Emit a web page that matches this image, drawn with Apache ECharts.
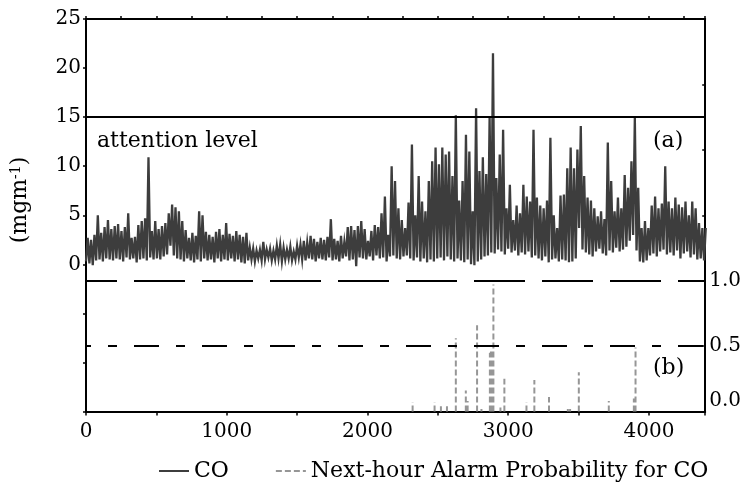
<!DOCTYPE html>
<html><head><meta charset="utf-8">
<script src="https://cdn.jsdelivr.net/npm/echarts@6/dist/echarts.min.js"></script>
<style>html,body{margin:0;padding:0;background:#fff}#c{width:744px;height:483px}</style>
</head><body><div id="c"></div>
<script>
// CO concentration, daily trough (low) and daily peak (high), mg/m3
const coDailyLow = [
  0.3, 0.1, -0.1, 0.4, 0.5, 0.3, 0.6, 0.5, 0.4, 0.6,
  0.5, 0.3, 0.7, 0.5, 0.6, 0.2, 0.5, 0.6, 0.4, 0.7,
  0.5, 0.6, 0.5, 0.8, 1.0, 1.9, 0.9, 0.6, 0.5, 0.3,
  0.6, 0.4, 0.2, 0.5, 0.3, 0.6, 0.4, 0.5, 0.2, 0.6,
  0.3, 0.5, 0.4, 0.6, 0.3, 0.5, 0.2, 0.1, 0.4, 0.5,
  0.3, 0.6, 0.4, 0.5, 0.7, 0.4, 0.5, 0.6, 0.3, 0.5,
  0.6, 0.4, 0.5, 0.7, 0.5, 0.4, 0.6, 0.5, 0.3, 0.6,
  0.5, 0.4, 0.7, 0.4, 0.5, 0.3, 0.6, 0.8, 0.4, 0.5,
  -0.2, 0.7, 0.6, 0.5, 0.8, 0.4, 0.9, 0.6, 0.7, 0.3,
  0.8, 0.9, 0.6, 0.5, 0.8, 0.9, 0.6, 0.4, 0.7, 0.3,
  0.6, 0.2, 0.5, 0.3, 0.6, 0.7, 0.4, 0.8, 0.5, 0.3,
  0.6, 0.4, 0.2, 0.5, 0.0, -0.1, 0.3, 0.5, 0.8, 0.9,
  1.2, 1.1, 1.5, 1.3, 1.0, 1.6, 1.2, 1.4, 0.9, 1.2,
  1.0, 1.3, 0.7, 0.9, 0.6, 0.4, 0.8, 0.2, 0.5, 0.6,
  0.3, 0.5, 0.4, 0.2, 0.3, 0.6, 3.7, 1.5, 1.2, 1.0,
  0.8, 1.3, 1.6, 1.1, 0.9, 1.4, 1.2, 1.7, 1.3, 1.5,
  1.8, 2.4, 3.0, 1.4, 0.3, 0.2, 0.4, 0.9, 1.1, 0.8,
  1.3, 1.5, 1.0, 1.2, 0.9, 1.4, 0.6, 1.1, 1.3, 0.7,
  1.0, 0.5, 0.6, 0.4
];
const coDailyHigh = [
  2.7, 2.5, 3.0, 5.0, 3.2, 3.8, 4.5, 3.6, 3.9, 4.1,
  3.4, 3.8, 5.2, 2.7, 2.8, 4.0, 4.4, 4.7, 10.9, 3.4,
  4.4, 3.6, 3.9, 4.2, 5.2, 6.1, 5.8, 5.4, 4.4, 3.5,
  2.7, 3.2, 2.9, 5.4, 5.0, 3.3, 3.0, 2.8, 3.3, 3.6,
  3.0, 4.2, 3.1, 2.9, 3.4, 3.0, 2.8, 3.2, 1.7, 1.6,
  1.4, 1.5, 2.3, 1.5, 1.6, 1.4, 1.9, 2.0, 1.7, 1.5,
  1.8, 1.3, 1.9, 2.0, 2.4, 2.2, 2.9, 2.6, 2.3, 2.7,
  2.5, 2.8, 4.6, 2.6, 2.4, 2.9, 2.3, 3.8, 3.9, 3.5,
  3.9, 4.4, 3.6, 2.4, 3.4, 4.0, 3.8, 5.2, 6.9, 3.0,
  10.0, 8.5, 5.7, 4.5, 3.7, 6.3, 12.2, 5.0, 9.0, 6.4,
  5.4, 8.5, 10.5, 11.9, 10.2, 11.9, 11.2, 11.5, 9.0, 15.2,
  6.5, 8.5, 13.2, 11.5, 5.4, 15.9, 9.5, 10.9, 9.2, 14.9,
  21.5, 8.8, 11.2, 13.7, 5.7, 8.1, 4.5, 6.0, 5.2, 8.1,
  6.9, 6.4, 13.7, 6.8, 6.0, 5.7, 6.5, 12.9, 5.0, 3.7,
  7.0, 7.1, 9.8, 11.9, 9.8, 11.7, 14.1, 9.0, 6.8, 6.5,
  5.7, 4.9, 5.4, 4.6, 12.4, 8.5, 5.4, 6.8, 5.7, 9.1,
  7.8, 10.5, 14.9, 7.8, 3.7, 4.4, 3.7, 6.0, 6.9, 5.7,
  6.2, 10.0, 6.4, 5.7, 6.8, 6.1, 5.8, 6.4, 5.0, 6.4,
  5.7, 4.2, 3.7, 3.7
];
// Next-hour alarm probability spikes: hour and probability
const probHours  = [2321, 2477, 2522, 2565, 2628, 2699, 2712, 2779, 2810, 2870, 2878, 2886, 2895, 2945, 2973, 3130, 3186, 3290, 3424, 3440, 3502, 3715, 3893, 3905];
const probValues = [0.07, 0.07, 0.04, 0.04, 0.56, 0.16, 0.08, 0.66, 0.02, 0.45, 0.48, 0.46, 0.97, 0.03, 0.25, 0.07, 0.24, 0.11, 0.02, 0.02, 0.30, 0.08, 0.10, 0.49];
const attentionLevel = 15;
const probLevels = [1.0, 0.5];
const seriesNames = ['CO', 'Next-hour Alarm Probability for CO'];

const FONT = 'DejaVu Serif';
const coData = [];
for (let d = 0; d < coDailyLow.length; d++) {
  coData.push([d * 24, coDailyLow[d]]);
  coData.push([d * 24 + 12, coDailyHigh[d]]);
}
const probData = [];
probHours.forEach((h, i) => { probData.push([h, 0], [h, probValues[i]], [h, '-']); });

const chart = echarts.init(document.getElementById('c'), null, {renderer: 'canvas'});
const axisLineStyle = {color: '#000', width: 2};
chart.setOption({
  animation: false,
  backgroundColor: '#fff',
  grid: {left: 86, right: 38, top: 19, bottom: 71.5, containLabel: false},
  legend: {
    left: 153, top: 455, itemWidth: 30, itemHeight: 14, itemGap: 46,
    data: seriesNames,
    itemStyle: {opacity: 0},
    textStyle: {fontFamily: FONT, fontSize: 22, color: '#000'}
  },
  xAxis: [
    {type: 'value', position: 'bottom', min: 0, max: 4400, interval: 500,
     axisLine: {onZero: false, lineStyle: axisLineStyle},
     axisTick: {length: 4, lineStyle: {color: '#000', width: 1.5}},
     splitLine: {show: false},
     axisLabel: {margin: 10, fontFamily: FONT, fontSize: 20, color: '#000',
       formatter: v => (v % 1000 === 0 ? String(v) : '')}},
    {type: 'value', position: 'top', min: 0, max: 4400, interval: 250,
     axisLine: {onZero: false, lineStyle: axisLineStyle},
     axisTick: {length: 3, lineStyle: {color: '#000', width: 1.5}},
     splitLine: {show: false}, axisLabel: {show: false}}
  ],
  yAxis: [
    {type: 'value', position: 'left', min: -15, max: 25, interval: 5,
     axisLine: {show: true, onZero: false, lineStyle: axisLineStyle},
     axisTick: {show: true, length: 3, lineStyle: {color: '#000', width: 1.5}},
     splitLine: {show: false},
     axisLabel: {margin: 5, fontFamily: FONT, fontSize: 20, color: '#000',
       formatter: v => (v >= 0 ? String(v) : '')}},
    {type: 'value', position: 'right', min: 0, max: 3, interval: 0.5,
     axisLine: {show: true, onZero: false, lineStyle: axisLineStyle},
     axisTick: {show: true, inside: true, length: 3, lineStyle: {color: '#000', width: 1.5}},
     splitLine: {show: false},
     axisLabel: {margin: 4, fontFamily: FONT, fontSize: 20, color: '#000',
       formatter: v => (v === 0 ? '{lo|0.0}' : (v <= 1 ? v.toFixed(1) : '')),
       rich: {lo: {fontFamily: FONT, fontSize: 20, color: '#000', padding: [0, 0, 22, 0]}}}}
  ],
  series: [
    {name: seriesNames[0], type: 'line', xAxisIndex: 0, yAxisIndex: 0,
     data: coData, showSymbol: false, symbol: 'none', sampling: null,
     lineStyle: {color: '#3d3d3d', width: 2.3, join: 'miter'}, itemStyle: {color: '#3d3d3d'},
     z: 3,
     markLine: {silent: true, symbol: ['none', 'none'], label: {show: false},
       data: [{yAxis: attentionLevel, lineStyle: {color: '#000', width: 2, type: 'solid'}}]}},
    {name: seriesNames[1], type: 'line', xAxisIndex: 0, yAxisIndex: 1,
     data: probData, showSymbol: false, symbol: 'none', connectNulls: false,
     lineStyle: {color: '#969696', width: 2, type: [6, 3]}, itemStyle: {color: '#969696'},
     z: 2,
     markLine: {silent: true, symbol: ['none', 'none'], label: {show: false},
       data: [
         {yAxis: probLevels[0], lineStyle: {color: '#000', width: 2, type: [51, 17], dashOffset: 20}},
         {yAxis: probLevels[1], lineStyle: {color: '#000', width: 2, type: [25, 17, 9, 17], dashOffset: 20}}
       ]}}
  ],
  graphic: [
    {type: 'text', left: 97, top: 130, style: {text: 'attention level', font: '22px "DejaVu Serif"', fill: '#000'}},
    {type: 'text', left: 653, top: 130, style: {text: '(a)', font: '22px "DejaVu Serif"', fill: '#000'}},
    {type: 'text', left: 653, top: 357, style: {text: '(b)', font: '22px "DejaVu Serif"', fill: '#000'}},
    {type: 'text', x: 20, y: 200, rotation: Math.PI / 2,
     style: {text: '(mgm{sup|-1})', x: 0, y: 0, align: 'center', verticalAlign: 'middle',
       font: '22px "DejaVu Serif"', fill: '#000',
       rich: {sup: {fontSize: 14, fontFamily: FONT, verticalAlign: 'top', fill: '#000'}}}}
  ]
});
</script>
</body></html>
